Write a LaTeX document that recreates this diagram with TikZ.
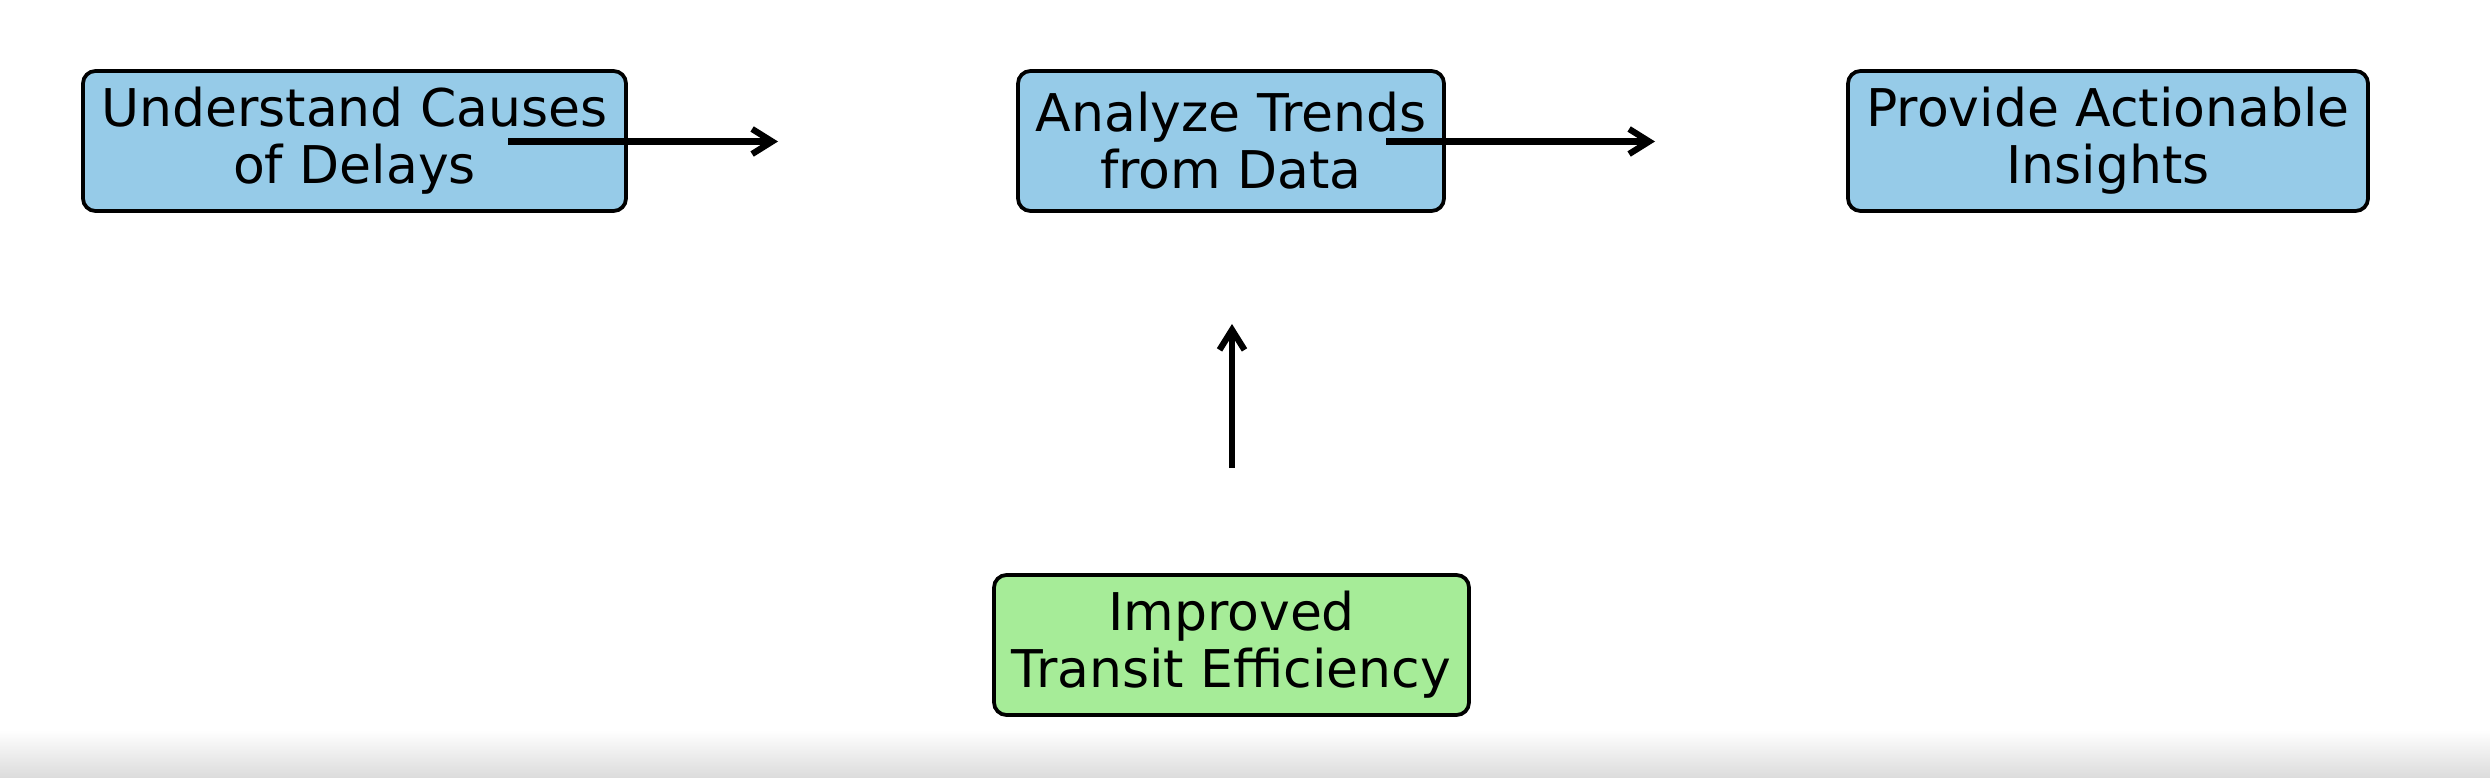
\documentclass[tikz,border=0pt]{standalone}
\usepackage{fontspec}
\setmainfont{DejaVu Sans}
\usetikzlibrary{arrows.meta}
\definecolor{boxblue}{RGB}{150,203,232}
\definecolor{boxgreen}{RGB}{166,236,152}
\tikzset{
  stepbox/.style={draw=black, line width=1.5pt, rounded corners=5pt,
    align=center, inner sep=0pt, font=\fontsize{20.8pt}{22.8pt}\selectfont},
  bluebox/.style={stepbox, fill=boxblue},
  greenbox/.style={stepbox, fill=boxgreen},
  flow/.style={draw=black, line width=2.5pt,
    -{Straight Barb[length=8pt, width=10pt, line width=2.5pt]}},
}
\begin{document}
\begin{tikzpicture}[x=0.4pt, y=-0.4pt]
  \useasboundingbox (0,0) rectangle (2490,778);
  \fill[white] (0,0) rectangle (2490,778);
  \shade[top color=white, bottom color=black!14] (0,730) rectangle (2490,778);

  \node[bluebox, minimum width=217.2pt, minimum height=56pt] (n1) at (354.5,141)
    {Understand Causes\\of Delays};
  \node[bluebox, minimum width=170.4pt, minimum height=56pt] (n2) at (1231,141)
    {Analyze Trends\\from Data};
  \node[bluebox, minimum width=208pt, minimum height=56pt] (n3) at (2108,141)
    {Provide Actionable\\Insights};
  \node[greenbox, minimum width=190pt, minimum height=56pt] (n4) at (1231.5,645)
    {Improved\\Transit Efficiency};

  \coordinate (a1s) at (508,141.5);
  \coordinate (a1e) at (778,141.5);
  \coordinate (a2s) at (1386,141.5);
  \coordinate (a2e) at (1655,141.5);
  \coordinate (a3s) at (1232,468);
  \coordinate (a3e) at (1232,324);

  \draw[flow] (a1s) -- (a1e);
  \draw[flow] (a2s) -- (a2e);
  \draw[flow] (a3s) -- (a3e);
\end{tikzpicture}
\end{document}
